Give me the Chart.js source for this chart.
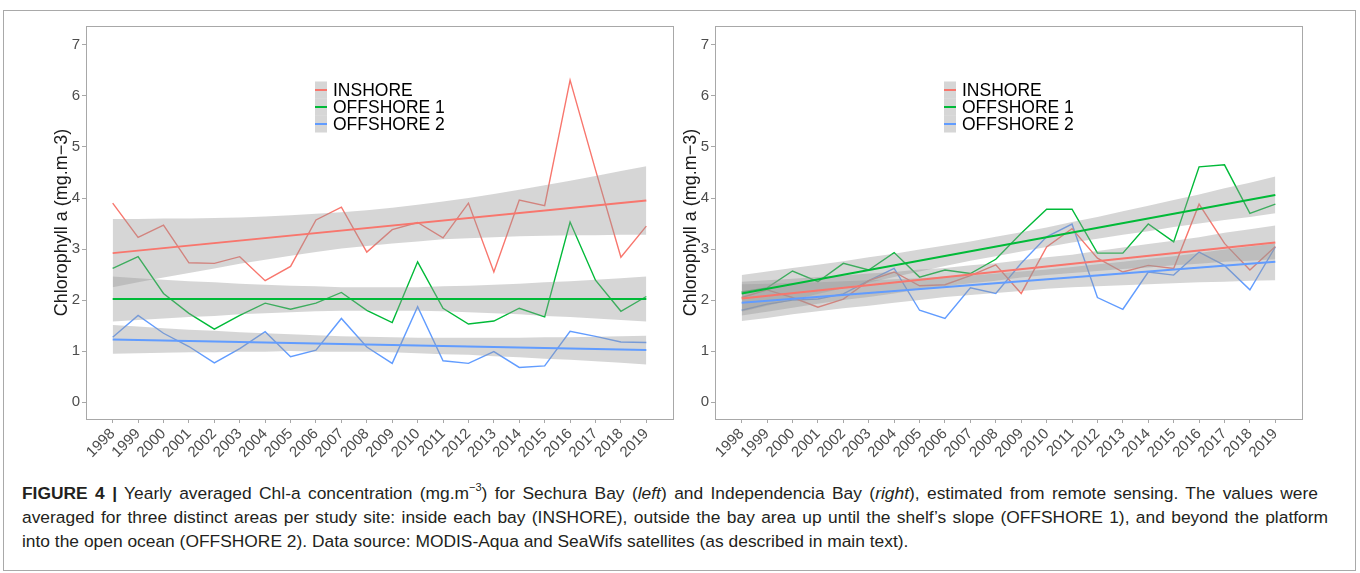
<!DOCTYPE html>
<html>
<head>
<meta charset="utf-8">
<script src="https://cdn.jsdelivr.net/npm/chart.js@4.4.1/dist/chart.umd.min.js"></script>
<style>
  body { margin: 0; background: #fff; width: 1360px; height: 573px; overflow: hidden; position: relative;
         font-family: "Liberation Sans", Arial, sans-serif; }
  #frame { position: absolute; left: 3px; top: 10px; width: 1353px; height: 561px; border: 1px solid #a9a9a9; box-sizing: border-box; }
  canvas { position: absolute; top: 0; }
  #sechura { left: 0; }
  #independencia { left: 629px; }
  #caption { position: absolute; left: 22px; top: 481px; font-size: 17.4px; line-height: 24px; color: #231f20; }
  #caption .ln { white-space: nowrap; }
  #caption .j { text-align: justify; text-align-last: justify; }
  #caption sup { font-size: 11px; line-height: 0; position: relative; top: -1px; }
</style>
</head>
<body>
<div id="frame"></div>
<canvas id="sechura" width="680" height="470"></canvas>
<canvas id="independencia" width="680" height="470"></canvas>
<div id="caption">
  <div class="ln j" style="width:1296px"><b>FIGURE 4 |</b> Yearly averaged Chl-a concentration (mg.m<sup>−3</sup>) for Sechura Bay (<i>left</i>) and Independencia Bay (<i>right</i>), estimated from remote sensing. The values were</div>
  <div class="ln j" style="width:1306px">averaged for three distinct areas per study site: inside each bay (INSHORE), outside the bay area up until the shelf’s slope (OFFSHORE 1), and beyond the platform</div>
  <div class="ln">into the open ocean (OFFSHORE 2). Data source: MODIS-Aqua and SeaWifs satellites (as described in main text).</div>
</div>
<script>
// Years and axis ticks
const years = [1998, 1999, 2000, 2001, 2002, 2003, 2004, 2005, 2006, 2007, 2008,
               2009, 2010, 2011, 2012, 2013, 2014, 2015, 2016, 2017, 2018, 2019];
const trendYears = [1998, 2019];
const yTicks = [0, 1, 2, 3, 4, 5, 6, 7];
const areaNames = ['INSHORE', 'OFFSHORE 1', 'OFFSHORE 2'];
const areaColors = ['#F8766D', '#00BA38', '#619CFF'];
const yTitle = 'Chlorophyll a (mg.m−3)';

// Sechura Bay: yearly mean Chl-a (mg m-3)
const sechuraInshore   = [3.90, 3.23, 3.47, 2.73, 2.72, 2.85, 2.38, 2.66, 3.57, 3.82, 2.94,
                          3.38, 3.52, 3.22, 3.90, 2.55, 3.96, 3.85, 6.31, 4.55, 2.84, 3.45];
const sechuraOffshore1 = [2.62, 2.85, 2.13, 1.74, 1.43, 1.70, 1.94, 1.82, 1.94, 2.15, 1.80,
                          1.56, 2.75, 1.84, 1.53, 1.59, 1.84, 1.67, 3.53, 2.39, 1.78, 2.07];
const sechuraOffshore2 = [1.27, 1.70, 1.35, 1.09, 0.77, 1.05, 1.38, 0.89, 1.02, 1.64, 1.08,
                          0.76, 1.87, 0.81, 0.76, 0.99, 0.68, 0.71, 1.39, 1.29, 1.18, 1.17];
// Sechura Bay: linear fits (1998, 2019) and 95% confidence bands
const sechuraInshoreFit   = [2.92, 3.95];
const sechuraOffshore1Fit = [2.02, 2.02];
const sechuraOffshore2Fit = [1.23, 1.02];
const sechuraInshoreLow    = [2.25, 2.35, 2.44, 2.53, 2.62, 2.71, 2.79, 2.87, 2.94, 3.01, 3.06,
                              3.11, 3.15, 3.19, 3.21, 3.23, 3.25, 3.26, 3.27, 3.27, 3.28, 3.28];
const sechuraInshoreHigh   = [3.59, 3.59, 3.60, 3.60, 3.61, 3.62, 3.64, 3.66, 3.69, 3.72, 3.76,
                              3.81, 3.87, 3.93, 4.00, 4.08, 4.16, 4.25, 4.34, 4.43, 4.53, 4.62];
const sechuraOffshore1Low  = [1.58, 1.61, 1.64, 1.67, 1.69, 1.72, 1.74, 1.76, 1.78, 1.79, 1.79,
                              1.79, 1.79, 1.78, 1.76, 1.74, 1.72, 1.69, 1.67, 1.64, 1.61, 1.58];
const sechuraOffshore1High = [2.46, 2.43, 2.40, 2.37, 2.35, 2.32, 2.30, 2.28, 2.27, 2.25, 2.25,
                              2.25, 2.25, 2.27, 2.28, 2.30, 2.32, 2.35, 2.37, 2.40, 2.43, 2.46];
const sechuraOffshore2Low  = [0.95, 0.96, 0.97, 0.98, 0.98, 0.99, 0.99, 1.00, 0.99, 0.99, 0.99,
                              0.98, 0.96, 0.94, 0.93, 0.90, 0.88, 0.85, 0.83, 0.80, 0.77, 0.74];
const sechuraOffshore2High = [1.51, 1.48, 1.45, 1.42, 1.40, 1.37, 1.35, 1.33, 1.31, 1.29, 1.28,
                              1.27, 1.26, 1.26, 1.26, 1.26, 1.26, 1.27, 1.27, 1.28, 1.29, 1.30];

// Independencia Bay: yearly mean Chl-a (mg m-3)
const indepInshore   = [2.05, 2.20, 2.05, 1.86, 2.02, 2.38, 2.55, 2.28, 2.30, 2.48, 2.69,
                        2.13, 3.04, 3.40, 2.82, 2.55, 2.68, 2.62, 3.88, 3.11, 2.59, 3.05];
const indepOffshore1 = [2.16, 2.24, 2.57, 2.36, 2.72, 2.59, 2.93, 2.45, 2.59, 2.52, 2.80,
                        3.31, 3.78, 3.78, 2.92, 2.92, 3.49, 3.14, 4.61, 4.65, 3.70, 3.88];
const indepOffshore2 = [1.80, 1.92, 2.00, 2.02, 2.12, 2.38, 2.62, 1.80, 1.64, 2.24, 2.13,
                        2.72, 3.24, 3.49, 2.05, 1.82, 2.55, 2.49, 2.94, 2.68, 2.20, 3.04];
// Independencia Bay: linear fits (1998, 2019) and 95% confidence bands
const indepInshoreFit   = [2.03, 3.13];
const indepOffshore1Fit = [2.13, 4.06];
const indepOffshore2Fit = [1.95, 2.75];
const indepInshoreLow    = [1.70, 1.77, 1.85, 1.93, 2.00, 2.06, 2.13, 2.21, 2.27, 2.33, 2.38,
                            2.44, 2.49, 2.53, 2.57, 2.61, 2.64, 2.68, 2.71, 2.75, 2.77, 2.80];
const indepInshoreHigh   = [2.36, 2.39, 2.42, 2.45, 2.48, 2.52, 2.55, 2.60, 2.63, 2.68, 2.72,
                            2.78, 2.84, 2.89, 2.96, 3.03, 3.10, 3.16, 3.23, 3.32, 3.39, 3.46];
const indepOffshore1Low  = [1.77, 1.89, 2.00, 2.12, 2.23, 2.34, 2.45, 2.56, 2.67, 2.77, 2.86,
                            2.95, 3.04, 3.13, 3.20, 3.28, 3.35, 3.43, 3.50, 3.57, 3.63, 3.70];
const indepOffshore1High = [2.49, 2.56, 2.63, 2.69, 2.76, 2.84, 2.91, 2.99, 3.07, 3.15, 3.24,
                            3.33, 3.42, 3.53, 3.63, 3.74, 3.85, 3.96, 4.07, 4.19, 4.30, 4.42];
const indepOffshore2Low  = [1.59, 1.65, 1.72, 1.78, 1.84, 1.89, 1.95, 2.00, 2.06, 2.10, 2.14,
                            2.18, 2.22, 2.25, 2.27, 2.29, 2.31, 2.33, 2.35, 2.36, 2.38, 2.39];
const indepOffshore2High = [2.31, 2.32, 2.34, 2.35, 2.37, 2.39, 2.41, 2.43, 2.46, 2.48, 2.52,
                            2.56, 2.60, 2.65, 2.70, 2.75, 2.81, 2.86, 2.92, 2.99, 3.05, 3.11];

const FONT = '"Liberation Sans", Arial, sans-serif';
const TEXT_GREY = '#4d4d4d';
const TICK_GREY = '#a8a8a8';
const BAND_FILL = 'rgba(153,153,153,0.4)';

const toPoints = (xs, ys) => ys.map((v, i) => ({ x: xs[i], y: v }));

function buildDatasets(raw, fits, lows, highs) {
  const ds = [];
  // observed yearly series (drawn underneath the confidence bands)
  raw.forEach((vals, k) => ds.push({
    data: toPoints(years, vals), borderColor: areaColors[k], borderWidth: 1.4,
    pointRadius: 0, fill: false, tension: 0, order: 3
  }));
  // confidence bands: lower edge, then upper edge filled down to it
  lows.forEach((lo, k) => {
    ds.push({ data: toPoints(years, lo), borderColor: 'rgba(0,0,0,0)', borderWidth: 0,
              pointRadius: 0, fill: false, order: 2 });
    ds.push({ data: toPoints(years, highs[k]), borderColor: 'rgba(0,0,0,0)', borderWidth: 0,
              pointRadius: 0, fill: '-1', backgroundColor: BAND_FILL, order: 2 });
  });
  // fitted trend lines on top
  fits.forEach((f, k) => ds.push({
    data: toPoints(trendYears, f), borderColor: areaColors[k], borderWidth: 2,
    pointRadius: 0, fill: false, tension: 0, order: 1
  }));
  return ds;
}

// panel frame and the in-panel legend
const panelDecor = {
  id: 'panelDecor',
  afterDatasetsDraw(chart) {
    const { ctx, chartArea: a } = chart;
    ctx.save();
    ctx.strokeStyle = TICK_GREY;
    ctx.lineWidth = 1;
    ctx.strokeRect(Math.round(a.left) + 0.5, Math.round(a.top) + 0.5,
                   Math.round(a.right - a.left), Math.round(a.bottom - a.top));
    const kx = a.left + 229, tx = a.left + 247;
    areaNames.forEach((name, k) => {
      const cy = a.top + 64 + k * 17;
      ctx.fillStyle = BAND_FILL;
      ctx.fillRect(kx, cy - 8.5, 12, 17);
      ctx.strokeStyle = areaColors[k];
      ctx.lineWidth = 2;
      ctx.beginPath(); ctx.moveTo(kx, cy); ctx.lineTo(kx + 12, cy); ctx.stroke();
      ctx.fillStyle = '#000';
      ctx.font = '17.5px ' + FONT;
      ctx.textBaseline = 'middle';
      ctx.textAlign = 'left';
      ctx.fillText(name, tx, cy + 1);
    });
    ctx.restore();
  }
};

function makeChart(id, datasets) {
  return new Chart(document.getElementById(id), {
    type: 'line',
    data: { datasets },
    plugins: [panelDecor],
    options: {
      responsive: false, animation: false, events: [],
      layout: { padding: { top: 26, right: 7, left: 0, bottom: 0 } },
      plugins: { legend: { display: false }, tooltip: { enabled: false } },
      scales: {
        x: {
          type: 'linear', min: 1996.95, max: 2020.05,
          afterBuildTicks: s => { s.ticks = years.map(v => ({ value: v })); },
          afterFit: s => { s.height = 51; },
          grid: { drawOnChartArea: false, drawTicks: true, tickLength: 4, color: TICK_GREY },
          border: { display: false },
          ticks: { autoSkip: false, minRotation: 45, maxRotation: 45, padding: 2,
                   color: TEXT_GREY, font: { size: 15, family: FONT },
                   callback: v => String(v) }
        },
        y: {
          type: 'linear', min: -0.33, max: 7.37,
          afterBuildTicks: s => { s.ticks = yTicks.map(v => ({ value: v })); },
          afterFit: s => { s.width = 86; },
          grid: { drawOnChartArea: false, drawTicks: true, tickLength: 4, color: TICK_GREY },
          border: { display: false },
          ticks: { padding: 2, color: TEXT_GREY, font: { size: 15, family: FONT },
                   callback: v => String(v) },
          title: { display: true, text: yTitle, color: '#1a1a1a',
                   font: { size: 18, family: FONT }, padding: { top: 51, bottom: 0 } }
        }
      }
    }
  });
}

makeChart('sechura', buildDatasets(
  [sechuraInshore, sechuraOffshore1, sechuraOffshore2],
  [sechuraInshoreFit, sechuraOffshore1Fit, sechuraOffshore2Fit],
  [sechuraInshoreLow, sechuraOffshore1Low, sechuraOffshore2Low],
  [sechuraInshoreHigh, sechuraOffshore1High, sechuraOffshore2High]));

makeChart('independencia', buildDatasets(
  [indepInshore, indepOffshore1, indepOffshore2],
  [indepInshoreFit, indepOffshore1Fit, indepOffshore2Fit],
  [indepInshoreLow, indepOffshore1Low, indepOffshore2Low],
  [indepInshoreHigh, indepOffshore1High, indepOffshore2High]));
</script>
</body>
</html>
